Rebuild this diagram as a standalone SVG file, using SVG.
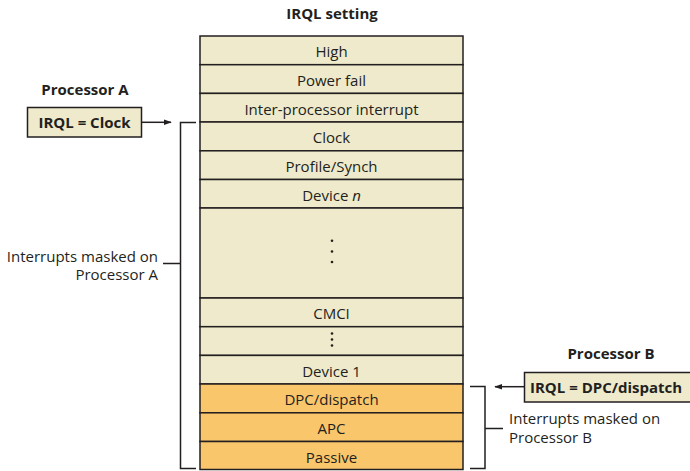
<svg xmlns="http://www.w3.org/2000/svg" width="690" height="471" viewBox="0 0 690 471">
<style>
text{font-family:"Open Sans","Noto Sans","DejaVu Sans",sans-serif;fill:#231f20;font-size:15px}
.t{text-anchor:middle}
.b{font-weight:bold}
.l{fill:#eeeacb;stroke:#231f20;stroke-width:1.5}
.o{fill:#f9c66b;stroke:#231f20;stroke-width:1.5}
.ln{fill:none;stroke:#231f20;stroke-width:1.5}
.dot{fill:#231f20}
</style>
<defs>
<marker id="ah" viewBox="0 0 10 10" refX="9" refY="5" markerWidth="8" markerHeight="8" markerUnits="userSpaceOnUse" orient="auto"><path d="M0,1.5 L10,5 L0,8.5 z" fill="#231f20"/></marker>
</defs>
<text class="b" x="332" y="19" text-anchor="middle">IRQL setting</text>
<g id="stack">
<g id="high"><rect class="l" x="200" y="36" width="263" height="28.7"/><text class="t" x="331.5" y="57">High</text></g>
<g id="powerfail"><rect class="l" x="200" y="64.7" width="263" height="28.7"/><text class="t" x="331.5" y="86">Power fail</text></g>
<g id="ipi"><rect class="l" x="200" y="93.4" width="263" height="28.6"/><text class="t" x="331.5" y="114.5">Inter-processor interrupt</text></g>
<g id="clock"><rect class="l" x="200" y="122" width="263" height="28.8"/><text class="t" x="331.5" y="143">Clock</text></g>
<g id="profile"><rect class="l" x="200" y="150.8" width="263" height="28.7"/><text class="t" x="331.5" y="172">Profile/Synch</text></g>
<g id="devicen"><rect class="l" x="200" y="179.5" width="263" height="28.5"/><text class="t" x="331.5" y="200.5">Device <tspan font-style="italic">n</tspan></text></g>
<g id="gap1"><rect class="l" x="200" y="208" width="263" height="90"/><circle class="dot" cx="332" cy="240.7" r="1.3"/><circle class="dot" cx="332" cy="251.5" r="1.3"/><circle class="dot" cx="332" cy="262" r="1.3"/></g>
<g id="cmci"><rect class="l" x="200" y="298" width="263" height="28.7"/><text class="t" x="331.5" y="319">CMCI</text></g>
<g id="gap2"><rect class="l" x="200" y="326.7" width="263" height="28.7"/><circle class="dot" cx="332" cy="333.5" r="1.3"/><circle class="dot" cx="332" cy="339.5" r="1.3"/><circle class="dot" cx="332" cy="345.5" r="1.3"/></g>
<g id="device1"><rect class="l" x="200" y="355.4" width="263" height="28.6"/><text class="t" x="331.5" y="376.5">Device 1</text></g>
<g id="dpc"><rect class="o" x="200" y="384" width="263" height="28.8"/><text class="t" x="331.5" y="405">DPC/dispatch</text></g>
<g id="apc"><rect class="o" x="200" y="412.8" width="263" height="28.7"/><text class="t" x="331.5" y="434">APC</text></g>
<g id="passive"><rect class="o" x="200" y="441.5" width="263" height="28"/><text class="t" x="331.5" y="462.5">Passive</text></g>
</g>
<g id="procA">
<text class="b" x="85" y="95" text-anchor="middle">Processor A</text>
<rect class="l" x="27.5" y="107.5" width="114" height="29.5"/>
<text class="b" x="84.5" y="128" text-anchor="middle">IRQL = Clock</text>
</g>
<g id="procB">
<text class="b" x="611" y="358.5" text-anchor="middle">Processor B</text>
<rect class="l" x="524.5" y="372.5" width="170" height="29.5"/>
<text class="b" x="530" y="393">IRQL = DPC/dispatch</text>
</g>
<g id="labels">
<text text-anchor="end"><tspan x="158" y="262">Interrupts masked on</tspan><tspan x="158" y="280">Processor A</tspan></text>
<text><tspan x="509" y="424">Interrupts masked on</tspan><tspan x="509" y="443">Processor B</tspan></text>
</g>
<g id="connectors">
<line class="ln" x1="141.5" y1="122.3" x2="171" y2="122.3" marker-end="url(#ah)"/>
<path class="ln" d="M196,122.5 H180.5 V468.5 H196 M163,263.5 H180.5"/>
<line class="ln" x1="524.5" y1="386.7" x2="495" y2="386.7" marker-end="url(#ah)"/>
<path class="ln" d="M470,386.5 H485 V468.5 H470 M485,428.5 H503"/>
</g>
</svg>
